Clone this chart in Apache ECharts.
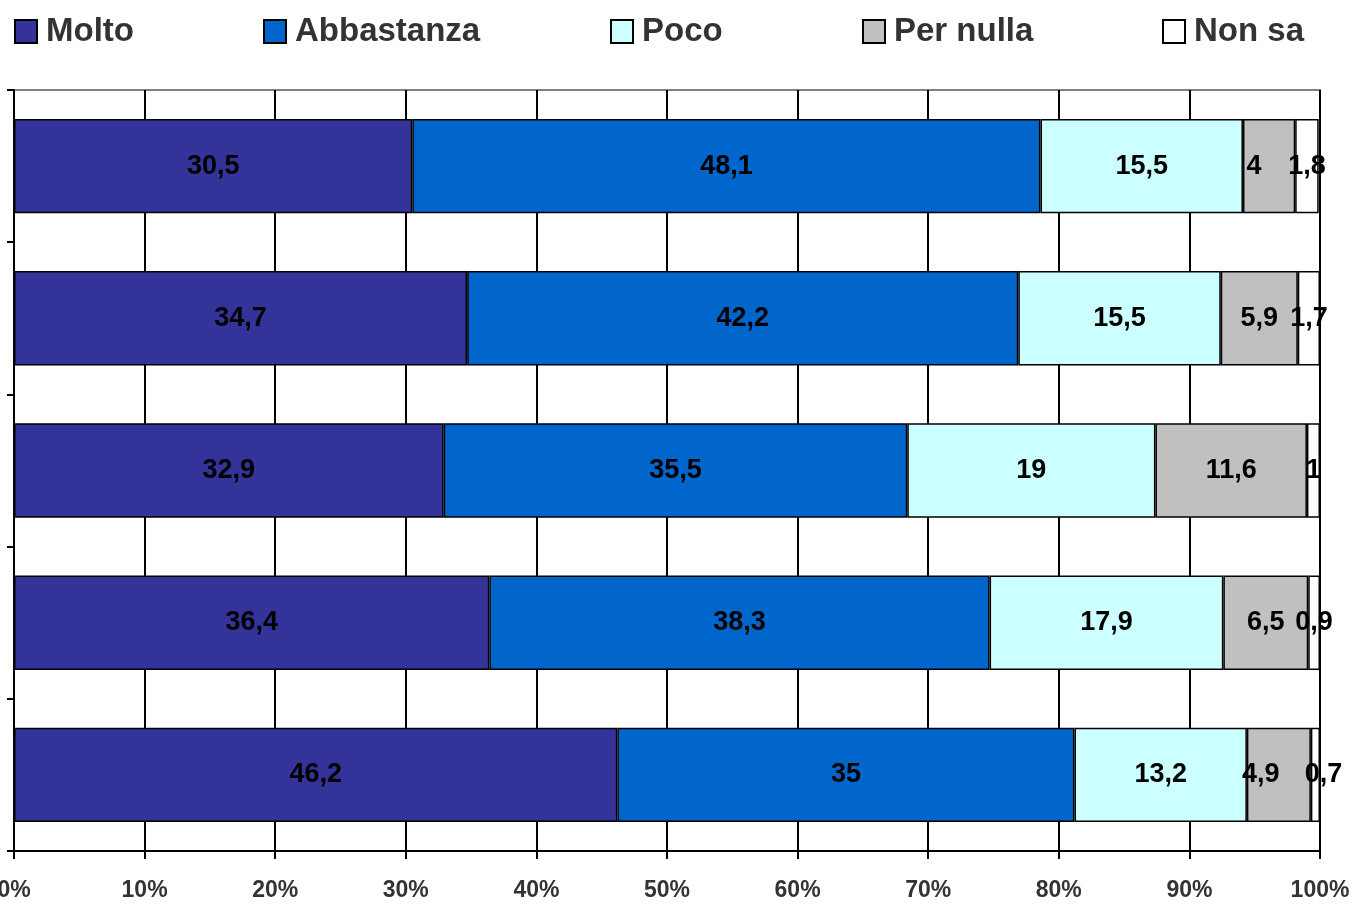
<!DOCTYPE html>
<html>
<head>
<meta charset="utf-8">
<script src="https://cdn.jsdelivr.net/npm/echarts@6/dist/echarts.min.js"></script>
<style>html,body{margin:0;padding:0;background:#fff}#c{width:1354px;height:907px}</style>
</head>
<body>
<div id="c"></div>
<script>
const categories = ['A', 'B', 'C', 'D', 'E'];
const seriesNames = ['Molto', 'Abbastanza', 'Poco', 'Per nulla', 'Non sa'];
const molto = [30.5, 34.7, 32.9, 36.4, 46.2];
const abbastanza = [48.1, 42.2, 35.5, 38.3, 35];
const poco = [15.5, 15.5, 19, 17.9, 13.2];
const perNulla = [4, 5.9, 11.6, 6.5, 4.9];
const nonSa = [1.8, 1.7, 1, 0.9, 0.7];
const xTicks = [0, 10, 20, 30, 40, 50, 60, 70, 80, 90, 100];

const colors = ['#333399', '#0066CC', '#CCFFFF', '#C0C0C0', '#FFFFFF'];
const values = [molto, abbastanza, poco, perNulla, nonSa];
const legendLeft = [14, 263, 610, 862, 1162];
// label nudges (series index -> row index -> [dx, dy]) to mimic the original overlap handling
const labelNudge = { 3: { 0: [-15, 0], 4: [-18, 0] }, 4: { 4: [8, 0] } };
const fontFamily = 'Liberation Sans, Arial, sans-serif';

const chart = echarts.init(document.getElementById('c'));
chart.setOption({
  animation: false,
  legend: seriesNames.map((n, i) => ({
    left: legendLeft[i], top: 15, padding: 0,
    itemWidth: 22, itemHeight: 23,
    icon: 'rect',
    textStyle: { fontFamily, fontSize: 33, fontWeight: 'bold', color: '#333', padding: [0, 0, 0, 4] },
    data: [{ name: n, itemStyle: { color: colors[i], borderColor: '#000', borderWidth: 2 } }]
  })),
  grid: { left: 14, right: 34, top: 90, bottom: 56, show: true, borderColor: '#808080', borderWidth: 2, containLabel: false, outerBoundsMode: 'none' },
  xAxis: {
    type: 'value', min: xTicks[0], max: xTicks[xTicks.length - 1], interval: 10,
    axisLine: { show: true, lineStyle: { color: '#000', width: 2 } },
    axisTick: { show: true, length: 8, lineStyle: { color: '#000', width: 2 } },
    axisLabel: { formatter: '{value}%', fontFamily, fontSize: 23, fontWeight: 'bold', color: '#333', margin: 28 },
    splitLine: { show: true, lineStyle: { color: '#000', width: 2 } }
  },
  yAxis: {
    type: 'category', data: categories, inverse: true,
    axisLine: { show: true, lineStyle: { color: '#000', width: 2 } },
    axisTick: { show: true, length: 7, lineStyle: { color: '#000', width: 2 } },
    axisLabel: { show: false },
    splitLine: { show: false }
  },
  series: seriesNames.map((n, i) => ({
    name: n, type: 'bar', stack: 'total', barWidth: '62%',
    data: values[i].map((v, r) => {
      const nudge = labelNudge[i] && labelNudge[i][r];
      return nudge ? { value: v, label: { offset: nudge } } : v;
    }),
    itemStyle: { color: colors[i], borderColor: '#000', borderWidth: 1.5 },
    label: {
      show: true, position: 'inside',
      fontFamily, fontSize: 27, fontWeight: 'bold', color: '#000',
      formatter: p => String(p.value).replace('.', ',')
    }
  }))
});
</script>
</body>
</html>
